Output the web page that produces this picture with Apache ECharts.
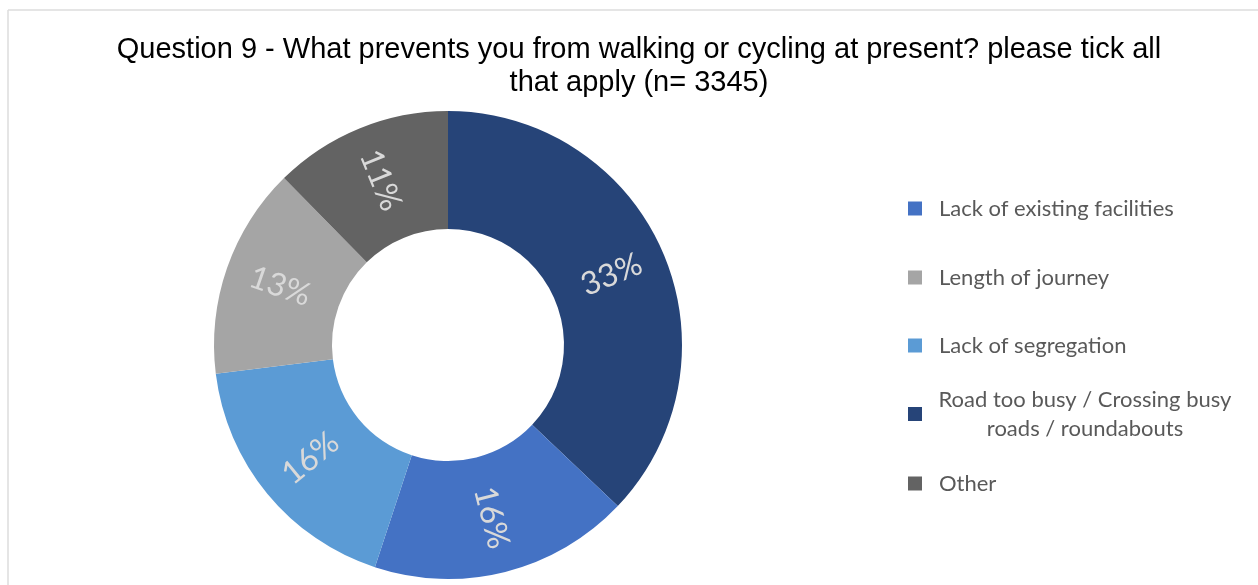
<!DOCTYPE html>
<html>
<head>
<meta charset="utf-8">
<script src="https://cdn.jsdelivr.net/npm/echarts@6/dist/echarts.min.js"></script>
<style>
  html, body { margin: 0; padding: 0; background: #fff; }
  #chart { width: 1258px; height: 585px; }
</style>
</head>
<body>
<div id="chart"></div>
<script>
// slice order as drawn, clockwise from 12 o'clock
const categories = [
  'Road too busy / Crossing busy roads / roundabouts',
  'Lack of existing facilities',
  'Lack of segregation',
  'Length of journey',
  'Other'
]
const values = [33, 16, 16, 13, 11]   // percent of respondents
const colors = ['#264478', '#4472c4', '#5b9bd5', '#a5a5a5', '#636363']
// legend order in the picture
const legendOrder = [
  'Lack of existing facilities',
  'Length of journey',
  'Lack of segregation',
  'Road too busy / Crossing busy roads / roundabouts',
  'Other'
]
const legendTops = [194, 263, 331, 385, 469]

const chart = echarts.init(document.getElementById('chart'))

const legends = legendOrder.map((name, i) => {
  const twoLine = name.startsWith('Road')
  return {
    orient: 'vertical',
    left: 908,
    top: legendTops[i],
    padding: 0,
    data: [name],
    icon: 'rect',
    itemWidth: 14,
    itemHeight: 14,
    itemGap: 0,
    selectedMode: false,
    textStyle: {
      fontFamily: 'Lato, sans-serif',
      fontSize: 22,
      color: '#595959',
      lineHeight: 29,
      padding: [0, 0, 0, 12],
      rich: { c: { width: 292, align: 'center', fontFamily: 'Lato, sans-serif', fontSize: 22, color: '#595959', lineHeight: 29 } }
    },
    formatter: twoLine ? () => '{c|Road too busy / Crossing busy}\n{c|roads / roundabouts}' : '{name}'
  }
})

chart.setOption({
  backgroundColor: '#fff',
  animation: false,
  color: colors,
  title: {
    text: 'Question 9 - What prevents you from walking or cycling at present? please tick all\nthat apply (n= 3345)',
    left: 634,
    top: 28,
    textAlign: 'center',
    textStyle: {
      fontFamily: '"Liberation Sans", Arial, sans-serif',
      fontWeight: 'normal',
      fontSize: 29,
      color: '#000',
      lineHeight: 33
    }
  },
  legend: legends,
  graphic: [
    { type: 'line', shape: { x1: 8, y1: 10, x2: 1258, y2: 10 }, style: { stroke: '#dcdcdc', lineWidth: 1.5 } },
    { type: 'line', shape: { x1: 8, y1: 10, x2: 8, y2: 585 }, style: { stroke: '#dcdcdc', lineWidth: 1.5 } }
  ],
  series: [
    {
      type: 'pie',
      center: [448, 345],
      radius: [116, 234],
      startAngle: 90,
      clockwise: true,
      avoidLabelOverlap: false,
      emphasis: { disabled: true },
      label: {
        show: true,
        position: 'inside',
        rotate: 'radial',
        formatter: '{c}%',
        fontFamily: 'Lato, sans-serif',
        fontWeight: 'normal',
        fontSize: 32,
        color: '#d9d9d9'
      },
      labelLine: { show: false },
      data: categories.map((name, i) => ({ name, value: values[i] }))
    }
  ]
})
</script>
</body>
</html>
